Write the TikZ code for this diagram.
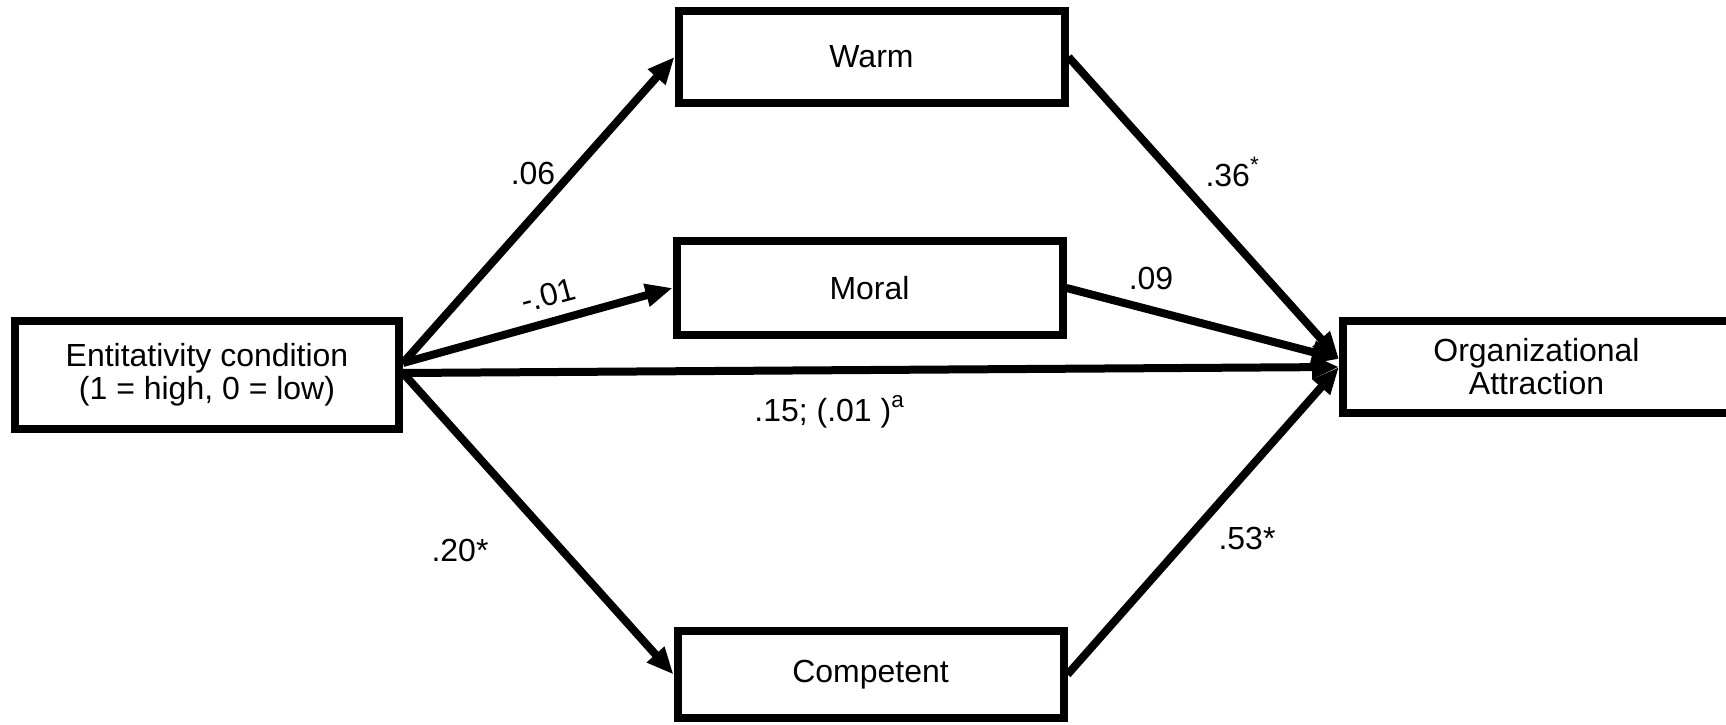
\documentclass[tikz,border=0pt]{standalone}
\usepackage{fontspec}
\setmainfont{Liberation Sans}
\usetikzlibrary{arrows.meta}

\begin{document}
\begin{tikzpicture}
		\tikzset{
			every node/.style = {font=\fontsize{9.1}{9.4}\selectfont},
			box/.style = {draw, line width=0.08cm, align=center, inner sep=0pt, minimum width=3.86cm, minimum height=0.92cm},
			link/.style = {line width=0.08cm, -{Triangle[length=0.27cm,width=0.22cm]}},
			coef/.style = {inner sep=1pt}
		}
		\useasboundingbox (0,0) rectangle (17.26,-7.25);
		\node [box, minimum width=3.84cm, minimum height=1.08cm] (ent) at (2.07,-3.75) {Entitativity condition\\(1 = high, 0 = low)};
		\node [box] (warm) at (8.715,-0.57) {Warm};
		\node [box, minimum height=0.94cm] (moral) at (8.695,-2.88) {Moral};
		\node [box, minimum height=0.87cm] (comp) at (8.705,-6.745) {Competent};
		\node [box, minimum width=3.87cm] (org) at (15.365,-3.67) {Organizational\\Attraction};
		\coordinate (entA) at ([yshift=0.12cm]ent.east);
		\coordinate (entB) at ([yshift=0.02cm]ent.east);
		\coordinate (orgA) at ([yshift=0.08cm]org.west);
		\draw [link] (entA) -- (warm.west);
		\draw [link] (entA) -- (moral.west);
		\draw [link] (entB) -- (org.west);
		\draw [link] (entB) -- (comp.west);
		\draw [link] (warm.east) -- (orgA);
		\draw [link] (moral.east) -- (orgA);
		\draw [link] (comp.east) -- (org.west);
		\node [coef] (w06) at (5.33,-1.73) {.06};
		\node [coef, rotate=15] (m01) at (5.48,-2.95) {-.01};
		\node [coef] (m09) at (11.51,-2.78) {.09};
		\node [coef] (w36) at (12.33,-1.72) {.36\textsuperscript{*}};
		\node [coef] (d15) at (8.30,-4.12) {.15; (.01 )\textsuperscript{a}};
		\node [coef] (c20) at (4.60,-5.50) {.20*};
		\node [coef] (c53) at (12.47,-5.38) {.53*};
		\end{tikzpicture}
\end{document}
